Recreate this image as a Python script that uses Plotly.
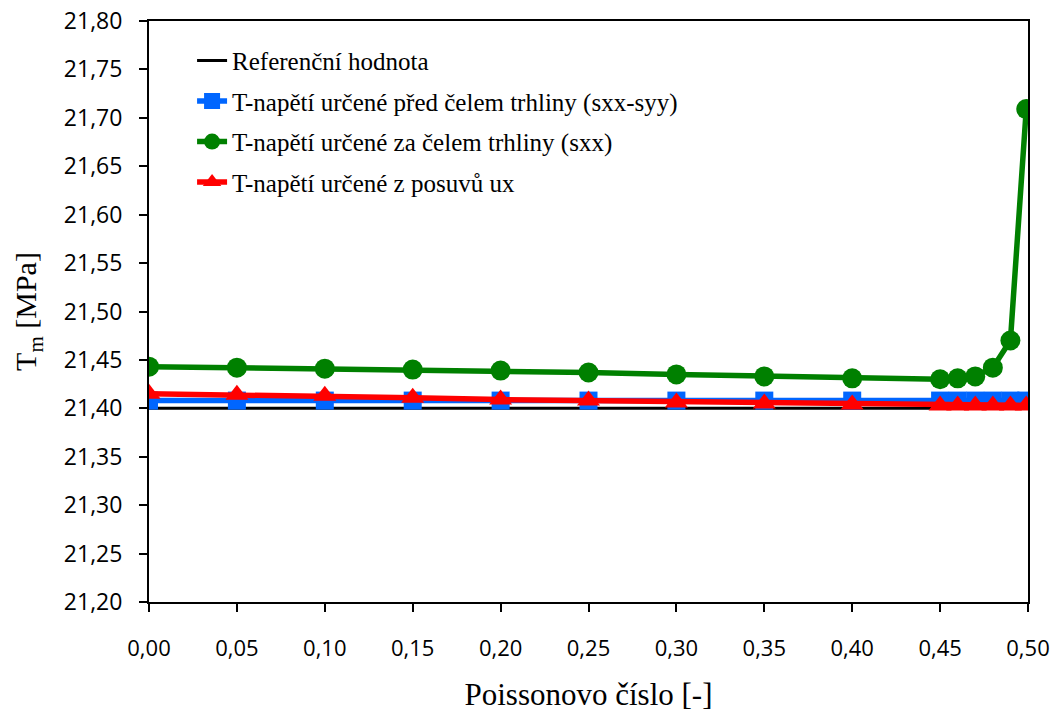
import plotly.graph_objects as go

x = [0.00, 0.05, 0.10, 0.15, 0.20, 0.25, 0.30, 0.35, 0.40, 0.45, 0.46, 0.47, 0.48, 0.49, 0.499]
ref = [21.40] * len(x)
blue = [21.408, 21.408, 21.408, 21.408, 21.408, 21.408, 21.408, 21.408, 21.408, 21.408, 21.408, 21.408, 21.408, 21.408, 21.408]
green = [21.443, 21.442, 21.441, 21.440, 21.439, 21.437, 21.435, 21.433, 21.431, 21.430, 21.431, 21.433, 21.442, 21.470, 21.709]
red = [21.415, 21.414, 21.413, 21.411, 21.409, 21.408, 21.406, 21.405, 21.404, 21.403, 21.403, 21.403, 21.403, 21.403, 21.403]

names = ["Referenční hodnota",
         "T-napětí určené před čelem trhliny (sxx-syy)",
         "T-napětí určené za čelem trhliny (sxx)",
         "T-napětí určené z posuvů ux"]

fig = go.Figure()
fig.add_trace(go.Scatter(x=x, y=ref, mode="lines", name=names[0], legendgroup="a",
                         line=dict(color="black", width=3)))
fig.add_trace(go.Scatter(x=x, y=blue, mode="lines+markers", name=names[1], legendgroup="b",
                         line=dict(color="#0066FF", width=5.5),
                         marker=dict(symbol="square", size=18, color="#0066FF")))
fig.add_trace(go.Scatter(x=x, y=green, mode="lines+markers", name=names[2], legendgroup="c",
                         line=dict(color="#008000", width=5.5),
                         marker=dict(symbol="circle", size=20, color="#008000")))
fig.add_trace(go.Scatter(x=x, y=red, mode="lines+markers", name=names[3], legendgroup="d",
                         line=dict(color="#FF0000", width=5.5),
                         marker=dict(symbol="triangle-up", size=20, color="#FF0000")))

fig.update_layout(
    width=1058, height=718,
    margin=dict(l=149, r=30, t=21, b=116),
    paper_bgcolor="white", plot_bgcolor="white",
    separators=",.",
    showlegend=True,
    legend=dict(x=0.049, y=0.971, xanchor="left", yanchor="top",
                bgcolor="rgba(0,0,0,0)",
                font=dict(family="Liberation Serif", size=25, color="black"),
                tracegroupgap=5),
    xaxis=dict(range=[0, 0.5], dtick=0.05, tick0=0, tickformat=".2f",
               automargin=False,
               showgrid=False, zeroline=False,
               showline=True, linecolor="black", linewidth=2, mirror=True,
               ticks="outside", ticklen=8, tickwidth=1.5, tickcolor="black",
               ticklabelstandoff=18,
               tickfont=dict(family="Open Sans", size=22, color="black"),
               title=dict(text="Poissonovo číslo [-]", standoff=22,
                          font=dict(family="Liberation Serif", size=31, color="black"))),
    yaxis=dict(range=[21.2, 21.8], dtick=0.05, tick0=21.2, tickformat=".2f",
               automargin=False,
               showgrid=False, zeroline=False,
               showline=True, linecolor="black", linewidth=2, mirror=True,
               ticks="outside", ticklen=8, tickwidth=1.5, tickcolor="black",
               ticklabelstandoff=12,
               tickfont=dict(family="Open Sans", size=23, color="black"),
               title=dict(text="T<sub>m</sub> [MPa]", standoff=18,
                          font=dict(family="Liberation Serif", size=30, color="black"))),
)

fig.write_html("out.html")
